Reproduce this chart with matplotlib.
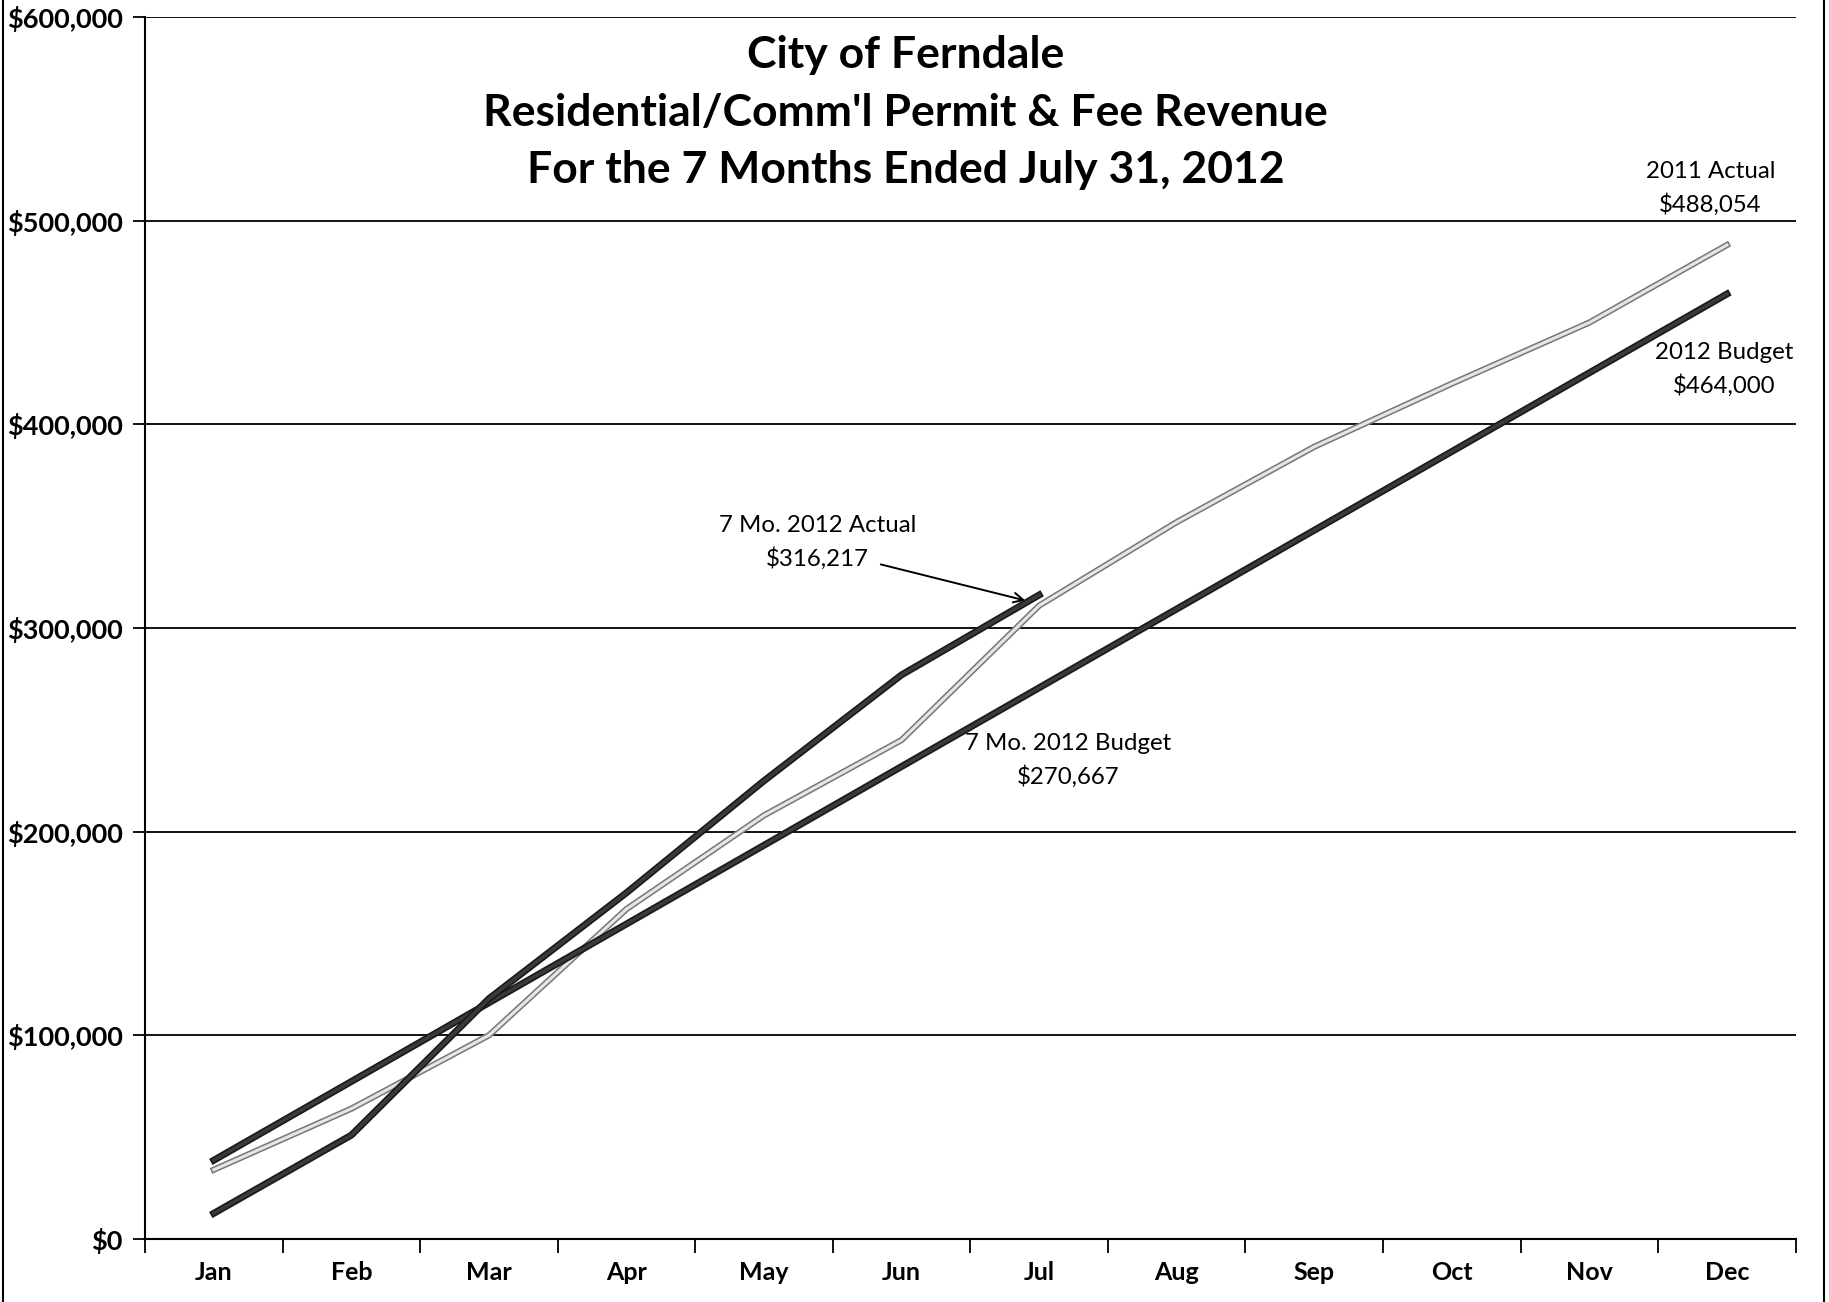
import numpy as np
import matplotlib
matplotlib.use("Agg")
import matplotlib.pyplot as plt
import matplotlib.patheffects as pe
from matplotlib.lines import Line2D
from matplotlib.ticker import FuncFormatter, MultipleLocator

plt.rcParams['font.family'] = ['Lato', 'DejaVu Sans']

months = ['Jan', 'Feb', 'Mar', 'Apr', 'May', 'Jun', 'Jul', 'Aug', 'Sep', 'Oct', 'Nov', 'Dec']

# cumulative revenue
actual_2011 = [34000, 64000, 100000, 162000, 208000, 245000, 311000,
               352000, 389000, 420000, 450000, 488054]
actual_2012 = [12600, 51000, 118000, 170000, 225000, 277000, 316217]
budget_2012 = [38667, 77333, 116000, 154667, 193333, 232000, 270667,
               309333, 348000, 386667, 425333, 464000]

title = "City of Ferndale\nResidential/Comm'l Permit & Fee Revenue\nFor the 7 Months Ended July 31, 2012"

fig = plt.figure(figsize=(18.29, 13.02), dpi=100)
ax = fig.add_axes([0.0793, 0.0484, 0.9025, 0.9385])

x = np.arange(len(months))

# 2011 actual: light grey line with darker edges (printed look)
ax.plot(x, actual_2011, color='#e6e6e6', lw=2.2, zorder=3,
        path_effects=[pe.Stroke(linewidth=4.5, foreground='#7a7a7a'), pe.Normal()])
# 2012 budget and actual: dark lines
ax.plot(x, budget_2012, color='#3a3a3a', lw=2.5, zorder=4,
        path_effects=[pe.Stroke(linewidth=5, foreground='#1a1a1a'), pe.Normal()])
ax.plot(x[:len(actual_2012)], actual_2012, color='#3a3a3a', lw=2.5, zorder=5,
        path_effects=[pe.Stroke(linewidth=5, foreground='#1a1a1a'), pe.Normal()])

ax.set_xlim(-0.5, 11.5)
ax.set_ylim(0, 600000)

ax.yaxis.set_major_locator(MultipleLocator(100000))
ax.yaxis.set_major_formatter(FuncFormatter(lambda v, p: '${:,.0f}'.format(v)))
ax.grid(axis='y', color='black', lw=1.3, zorder=1)
ax.set_axisbelow(True)

ax.set_xticks(x)
ax.set_xticklabels(months)
ax.set_xticks(np.arange(-0.5, 12, 1), minor=True)
ax.tick_params(axis='x', which='major', length=0, pad=16, labelsize=18)
ax.tick_params(axis='x', which='minor', length=10, width=1.3, direction='out')
ax.tick_params(axis='y', which='major', length=9, width=1.3, labelsize=19.5, pad=7)
for lab in ax.get_xticklabels() + ax.get_yticklabels():
    lab.set_fontweight('bold')

for s in ['top', 'right']:
    ax.spines[s].set_visible(False)
ax.spines['left'].set_linewidth(1.5)
ax.spines['bottom'].set_linewidth(1.5)

ax.text(5.03, 591000, title, ha='center', va='top', fontsize=32,
        fontweight='bold', linespacing=1.52)

# annotations
note_kw = dict(ha='center', va='center', fontsize=17.3, linespacing=1.6)
ax.annotate("7 Mo. 2012 Actual\n$316,217", xy=(5.9, 313500), xytext=(4.39, 342000),
            arrowprops=dict(arrowstyle='->', color='black', lw=1.4, patchA=None,
                            shrinkA=0, shrinkB=0, relpos=(0.82, 0.1)),
            **note_kw)
ax.text(6.21, 235000, "7 Mo. 2012 Budget\n$270,667", **note_kw)
ax.text(10.88, 516000, "2011 Actual\n$488,054", **note_kw)
ax.text(10.98, 427000, "2012 Budget\n$464,000", **note_kw)

# chart border left/right
fig.add_artist(Line2D([0.0015, 0.0015], [0, 1], color='black', lw=1.5))
fig.add_artist(Line2D([0.9975, 0.9975], [0, 1], color='black', lw=1.5))

fig.savefig('out.png', dpi=100)
